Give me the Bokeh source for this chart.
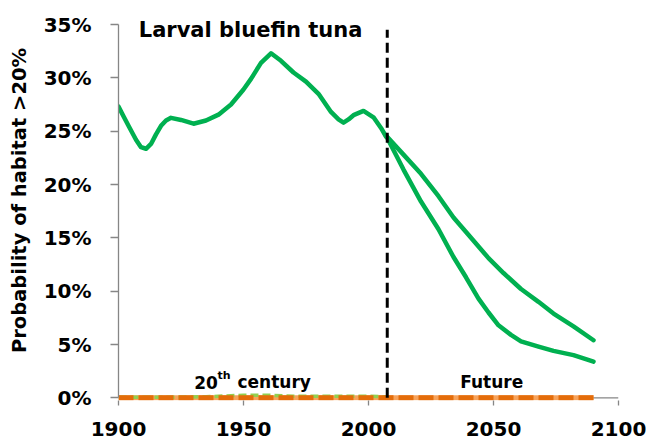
from bokeh.plotting import figure
from bokeh.embed import file_html
from bokeh.resources import INLINE
from bokeh.models import FixedTicker, PrintfTickFormatter, Label, Span

# ---- data ----
hist_years = [1900, 1902, 1904, 1907, 1909, 1911, 1913, 1915, 1917, 1919, 1921, 1925, 1930, 1935,
              1940, 1945, 1950, 1953, 1957, 1961, 1965, 1970, 1975, 1980, 1985, 1988, 1990,
              1992, 1994, 1998, 2002, 2005, 2007]
hist_vals = [27.3, 26.4, 25.5, 24.2, 23.5, 23.35, 23.8, 24.7, 25.5, 26.0, 26.25, 26.05, 25.7, 26.0,
             26.55, 27.5, 28.9, 29.9, 31.4, 32.3, 31.6, 30.5, 29.65, 28.5, 26.8, 26.1, 25.8,
             26.1, 26.5, 26.9, 26.3, 25.3, 24.5]

fut_years_a = [2007, 2014, 2021, 2028, 2034, 2041, 2048, 2054, 2061, 2068, 2074, 2082, 2090]
fut_vals_a = [24.6, 22.8, 21.0, 18.9, 16.9, 15.0, 13.1, 11.7, 10.2, 9.0, 7.9, 6.7, 5.4]

fut_years_b = [2007, 2014, 2021, 2028, 2034, 2039, 2044, 2048, 2052, 2057, 2061, 2068, 2074, 2082, 2090]
fut_vals_b = [24.6, 21.4, 18.4, 15.8, 13.2, 11.3, 9.3, 8.0, 6.8, 5.9, 5.3, 4.8, 4.4, 4.0, 3.4]

adult_years = [1900, 1920, 1935, 1945, 1950, 1960, 1970, 1980, 1990, 2000, 2007]
adult_vals = [0.05, 0.05, 0.1, 0.2, 0.25, 0.25, 0.15, 0.15, 0.15, 0.15, 0.1]

zero_years = [1900, 2090]
zero_vals = [0.0, 0.0]

split_year = 2007.5
x_ticks = [1900, 1950, 2000, 2050, 2100]
y_ticks = [0, 5, 10, 15, 20, 25, 30, 35]

FONT = "DejaVu Sans"
GREY = "#868686"

p = figure(width=646, height=443, output_backend="svg", toolbar_location=None,
           x_range=(1900, 2100), y_range=(-0.25, 37.25),
           min_border_left=118, min_border_right=28, min_border_top=0, min_border_bottom=43)
p.outline_line_color = None
p.xgrid.visible = False
p.ygrid.visible = False
p.background_fill_color = "white"

# axes
for ax in (p.xaxis[0], p.yaxis[0]):
    ax.axis_line_color = GREY
    ax.axis_line_width = 1.3
    ax.major_tick_line_color = GREY
    ax.major_tick_line_width = 1.3
    ax.major_tick_in = 0
    ax.minor_tick_line_color = None
    ax.major_label_text_font = FONT
    ax.major_label_text_font_style = "bold"
    ax.major_label_text_color = "black"
    ax.major_label_text_font_size = "20px"

p.xaxis.ticker = FixedTicker(ticks=x_ticks)
p.xaxis.axis_line_color = None
p.xaxis.major_tick_out = 5
p.xaxis.major_label_standoff = 16

p.yaxis.ticker = FixedTicker(ticks=y_ticks)
p.yaxis.bounds = (0, 35)
p.yaxis.formatter = PrintfTickFormatter(format="%d%%")
p.yaxis.major_tick_out = 8
p.yaxis.major_label_standoff = 19
p.yaxis.axis_label = "Probability of habitat >20%"
p.yaxis.axis_label_text_font = FONT
p.yaxis.axis_label_text_font_style = "bold"
p.yaxis.axis_label_text_font_size = "19.5px"
p.yaxis.axis_label_text_color = "black"
p.yaxis.axis_label_standoff = 10

# horizontal axis line at 0%
p.add_layout(Span(location=0, dimension="width", line_color=GREY, line_width=1.3, level="underlay"))

# zero lines (orange, drawn with lighter underlay)
p.line(zero_years, zero_vals, line_color="#F7A35C", line_width=5)
p.line(adult_years, adult_vals, line_color="#92D050", line_width=3.5, line_dash="8 4")
p.line(zero_years, zero_vals, line_color="#E46C0A", line_width=5, line_dash="15 5")

# green curves
for xs, ys in ((hist_years, hist_vals), (fut_years_a, fut_vals_a), (fut_years_b, fut_vals_b)):
    p.line(xs, ys, line_color="#00B050", line_width=4.5, line_join="round", line_cap="round")

# dividing line
p.segment(x0=[split_year], y0=[0], x1=[split_year], y1=[34.5], line_color="black",
          line_width=3, line_dash="10 5")

# texts
def lab(x, y, t, size, align="left"):
    p.add_layout(Label(x=x, y=y, text=t, text_font=FONT, text_font_style="bold",
                       text_font_size=size, text_color="black",
                       text_baseline="alphabetic", text_align=align))

lab(1908.1, 34.44, "Larval bluefin tuna", "21px")
lab(1930.3, 1.44, "20", "17px")
lab(1939.6, 2.1, "th", "11px")
lab(1947.6, 1.44, "century", "17px")
lab(2049.3, 1.44, "Future", "17px", "center")

open("out.html", "w").write(file_html(p, INLINE))
